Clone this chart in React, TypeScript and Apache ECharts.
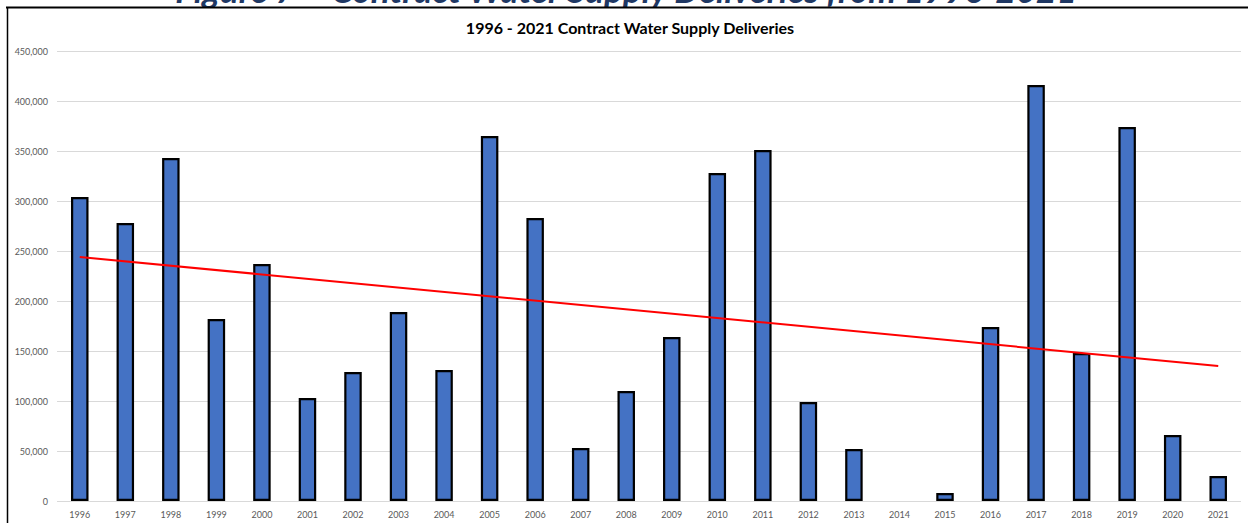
import React, { useEffect, useRef } from "react";
import * as echarts from "echarts";

const years = [
  "1996", "1997", "1998", "1999", "2000", "2001", "2002", "2003", "2004", "2005",
  "2006", "2007", "2008", "2009", "2010", "2011", "2012", "2013", "2014", "2015",
  "2016", "2017", "2018", "2019", "2020", "2021",
];

const deliveries = [
  304000, 278000, 343000, 182000, 237000, 103000, 129000, 189000, 131000, 365000,
  283000, 53000, 110000, 164000, 328000, 351000, 99000, 52000, 0, 8000,
  174000, 416000, 148000, 374000, 66000, 25000,
];

const trendStart = 244000;
const trendEnd = 135000;

const chartTitle = "1996 - 2021 Contract Water Supply Deliveries";
const figureTitle = "Figure 7 \u2013 Contract Water Supply Deliveries from 1996-2021";

const yMax = 450000;
const yInterval = 50000;

export default function App() {
  const ref = useRef<HTMLDivElement>(null);

  useEffect(() => {
    if (!ref.current) return;
    const chart = echarts.init(ref.current, null, { renderer: "svg" });
    const trendData = years.map((_, i) =>
      i === 0 ? trendStart : i === years.length - 1 ? trendEnd : null
    );
    const barData = deliveries.map((v) =>
      v === 0 ? { value: v, itemStyle: { borderWidth: 0 } } : v
    );
    chart.setOption({
      animation: false,
      backgroundColor: "#ffffff",
      textStyle: { fontFamily: "Lato, 'Liberation Sans', sans-serif" },
      grid: { left: 57, right: 7, top: 51, bottom: 22, containLabel: false },
      xAxis: {
        type: "category",
        data: years,
        boundaryGap: true,
        axisLine: { show: false },
        axisTick: { show: false },
        axisLabel: { color: "#595959", fontSize: 9, margin: 9, interval: 0 },
        splitLine: { show: false },
      },
      yAxis: {
        type: "value",
        min: 0,
        max: yMax,
        interval: yInterval,
        axisLine: { show: false },
        axisTick: { show: false },
        axisLabel: {
          color: "#595959",
          fontSize: 9,
          margin: 9,
          formatter: (v: number) => v.toLocaleString("en-US"),
        },
        splitLine: { lineStyle: { color: "#d9d9d9", width: 1 } },
      },
      series: [
        {
          type: "bar",
          data: barData,
          barWidth: 17.5,
          itemStyle: { color: "#4472C4", borderColor: "#000000", borderWidth: 2.2 },
          z: 2,
        },
        {
          type: "line",
          data: trendData,
          connectNulls: true,
          showSymbol: false,
          symbol: "none",
          lineStyle: { color: "#ff0000", width: 2 },
          z: 3,
        },
      ],
      graphic: [
        {
          type: "text",
          x: 626,
          y: 6,
          style: {
            text: figureTitle,
            align: "center",
            verticalAlign: "bottom",
            fontFamily: "Lato, 'Liberation Sans', sans-serif",
            fontWeight: "bold",
            fontStyle: "italic",
            fontSize: 35,
            fill: "#1F3864",
          },
          z: 10,
        },
        {
          type: "rect",
          shape: { x: 0, y: 8, width: 1248, height: 10 },
          style: { fill: "#ffffff" },
          z: 11,
        },
        {
          type: "line",
          shape: { x1: 6, y1: 7.5, x2: 1248, y2: 7.5 },
          style: { stroke: "#000000", lineWidth: 2 },
          z: 12,
        },
        {
          type: "line",
          shape: { x1: 7.5, y1: 7, x2: 7.5, y2: 523 },
          style: { stroke: "#000000", lineWidth: 1.5 },
          z: 12,
        },
        {
          type: "text",
          x: 630,
          y: 19,
          style: {
            text: chartTitle,
            align: "center",
            verticalAlign: "top",
            fontFamily: "Lato, 'Liberation Sans', sans-serif",
            fontWeight: "bold",
            fontSize: 16,
            fill: "#000000",
          },
          z: 12,
        },
      ],
    });
    return () => chart.dispose();
  }, []);

  return (
    <div
      ref={ref}
      style={{ position: "fixed", left: 0, top: 0, width: 1248, height: 523 }}
    />
  );
}
